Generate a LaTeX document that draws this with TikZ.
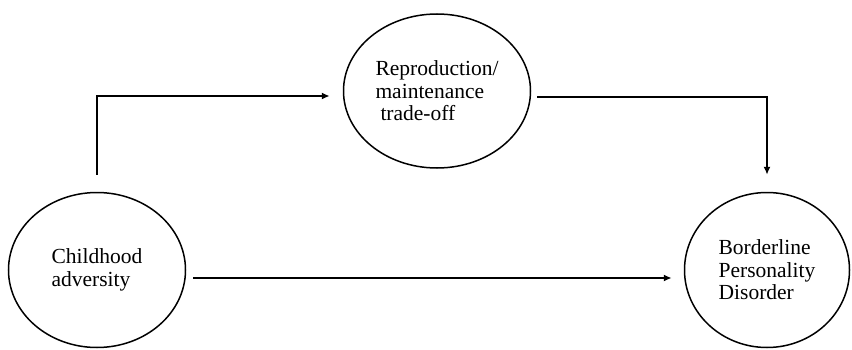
\documentclass[tikz,border=0pt]{standalone}
\usepackage{fontspec}
\setmainfont{Liberation Serif}
\usepackage{tikz}
\usetikzlibrary{shapes.geometric, arrows.meta, positioning, calc}
\definecolor{mydark}{RGB}{0,0,0}
\tikzset{
  factor/.style={ellipse, draw=mydark, line width=1.5pt, inner sep=0pt,
    align=left, font=\fontsize{21.5}{22.5}\selectfont,
    execute at begin node=\rule{0pt}{29pt}},
  arrow/.style={-{Latex[length=8pt,width=7pt]}, line width=1.8pt, color=mydark}
}
\begin{document}
\begin{tikzpicture}[x=1pt, y=1pt]
  \useasboundingbox (0,0) rectangle (852,349);
  \node[factor, minimum width=177pt, minimum height=155pt] (adv) at (97,79)
    {Childhood\\adversity};
  \node[factor, minimum width=187pt, minimum height=154pt] (trade) at (437,258)
    {Reproduction/\\maintenance\\\hspace{5pt}trade-off};
  \node[factor, minimum width=165pt, minimum height=155pt] (bpd) at (767,79)
    {Borderline\\Personality\\Disorder};
  % paths
  \draw[arrow, shorten <=17pt, shorten >=13pt] (adv.north) |- ([yshift=-5pt]trade.west);
  \draw[arrow, shorten <=6pt, shorten >=17pt] ([yshift=-6pt]trade.east) -| (bpd.north);
  \draw[arrow, shorten <=7pt, shorten >=12pt] ([yshift=-8pt]adv.east) -- ([yshift=-8pt]bpd.west);
\end{tikzpicture}
\end{document}
